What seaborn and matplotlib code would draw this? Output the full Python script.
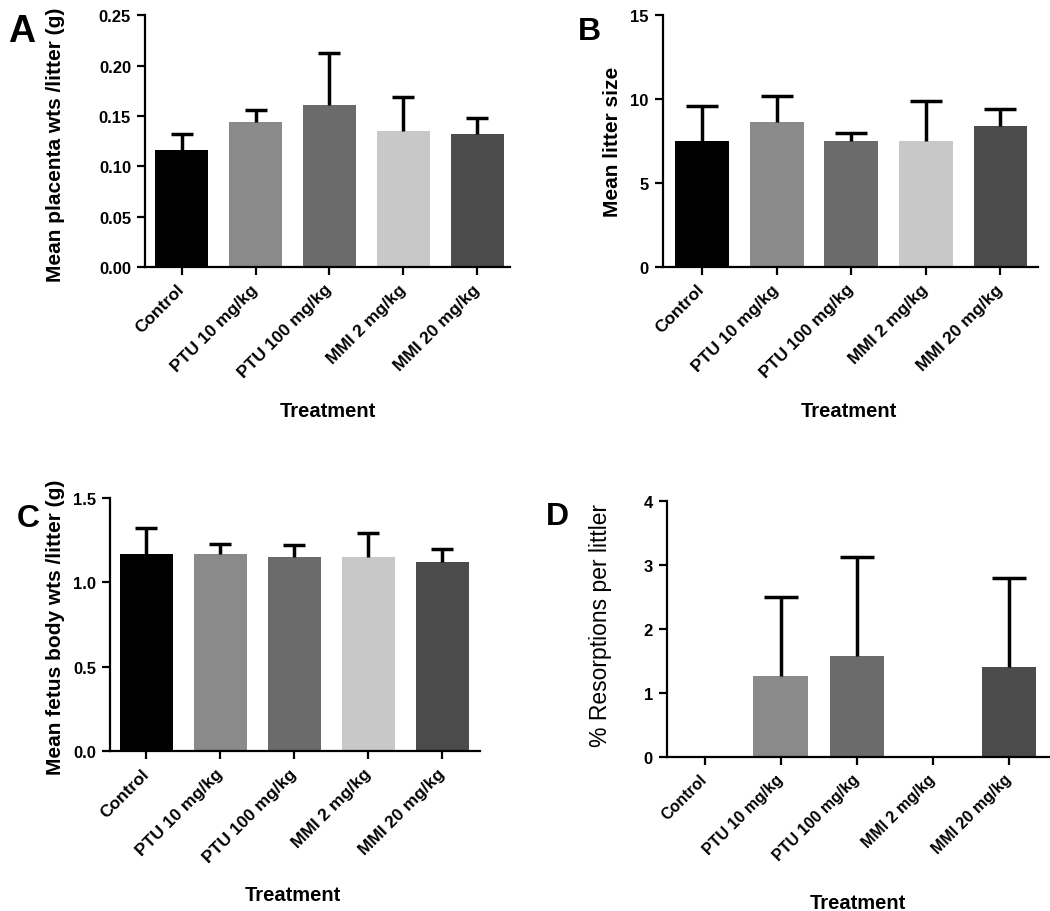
import numpy as np
import matplotlib
matplotlib.use("Agg")
import matplotlib.pyplot as plt
import seaborn as sns

treatments = ["Control", "PTU 10 mg/kg", "PTU 100 mg/kg", "MMI 2 mg/kg", "MMI 20 mg/kg"]
bar_colors = ["#000000", "#8a8a8a", "#6b6b6b", "#c8c8c8", "#4b4b4b"]

placenta_mean = [0.116, 0.144, 0.161, 0.135, 0.132]
placenta_sd = [0.016, 0.012, 0.052, 0.034, 0.016]

litter_mean = [7.5, 8.65, 7.5, 7.5, 8.4]
litter_sd = [2.1, 1.55, 0.5, 2.4, 1.0]

fetus_mean = [1.17, 1.17, 1.15, 1.15, 1.12]
fetus_sd = [0.15, 0.06, 0.07, 0.14, 0.08]

resorp_mean = [0.0, 1.27, 1.57, 0.0, 1.40]
resorp_sd = [0.0, 1.22, 1.55, 0.0, 1.39]

sns.set_theme(style="ticks")
plt.rcParams["font.family"] = ["Liberation Sans", "DejaVu Sans"]
plt.rcParams["axes.linewidth"] = 1.6
for key in ("text.color", "axes.labelcolor", "xtick.color", "ytick.color", "axes.edgecolor"):
    plt.rcParams[key] = "black"


def draw_panel(ax, means, sds, yticks, fmt, ylabel, letter, letter_xy, letter_size,
               ylabel_xy, xlabel_xy, xlim, capsize, xtick_size=12.5, ylabel_kw=None):
    sns.barplot(x=treatments, y=means, hue=treatments, palette=bar_colors,
                legend=False, width=0.72, linewidth=0, saturation=1, ax=ax)
    means = np.asarray(means)
    sds = np.asarray(sds)
    idx = np.arange(len(means))
    keep = sds > 0
    # upper-only error bars, as in the original Prism figure
    _, caps, _ = ax.errorbar(idx[keep], means[keep],
                             yerr=[np.zeros(keep.sum()), sds[keep]],
                             fmt="none", ecolor="black", elinewidth=2.5,
                             capsize=capsize, capthick=2.5, zorder=5)
    caps[0].set_visible(False)

    ax.set_xlim(*xlim)
    ax.set_ylim(yticks[0], yticks[-1])
    ax.set_yticks(yticks)
    ax.set_yticklabels([fmt.format(v) for v in yticks], fontsize=12, fontweight="bold")
    ax.set_xticks(idx)
    ax.set_xticklabels(treatments, rotation=45, ha="right", va="center",
                       rotation_mode="anchor", fontsize=xtick_size, fontweight="bold")
    ax.tick_params(axis="both", length=6, width=1.6, color="black", pad=4)
    ax.tick_params(axis="x", pad=8)
    sns.despine(ax=ax)

    kw = ylabel_kw or dict(fontsize=15, fontweight="bold")
    ax.set_ylabel(ylabel, **kw)
    ax.yaxis.set_label_coords(*ylabel_xy)
    ax.set_xlabel("Treatment", fontsize=14.5, fontweight="bold")
    ax.xaxis.set_label_coords(*xlabel_xy)
    ax.text(letter_xy[0], letter_xy[1], letter, transform=ax.figure.transFigure,
            fontsize=letter_size, fontweight="bold", ha="center", va="center")


fig = plt.figure(figsize=(10.5, 9.12), dpi=100)
ax_a = fig.add_axes([0.138, 0.706, 0.348, 0.276])
ax_b = fig.add_axes([0.631, 0.706, 0.358, 0.276])
ax_c = fig.add_axes([0.105, 0.175, 0.352, 0.278])
ax_d = fig.add_axes([0.635, 0.169, 0.3695, 0.281])

draw_panel(ax_a, placenta_mean, placenta_sd, [0, 0.05, 0.10, 0.15, 0.20, 0.25], "{:.2f}",
           "Mean placenta wts /litter (g)", "A", (22 / 1050, 1 - 32 / 912), 27,
           (-0.219, 0.49), (0.501, -0.532), (-0.5, 4.45), 8)
draw_panel(ax_b, litter_mean, litter_sd, [0, 5, 10, 15], "{:.0f}",
           "Mean litter size", "B", (589 / 1050, 1 - 32 / 912), 23,
           (-0.109, 0.5), (0.496, -0.532), (-0.53, 4.51), 11.5)
draw_panel(ax_c, fetus_mean, fetus_sd, [0, 0.5, 1.0, 1.5], "{:.1f}",
           "Mean fetus body wts /litter (g)", "C", (28 / 1050, 1 - 519 / 912), 23,
           (-0.122, 0.494), (0.493, -0.526), (-0.49, 4.51), 8)
draw_panel(ax_d, resorp_mean, resorp_sd, [0, 1, 2, 3, 4], "{:.0f}",
           "% Resorptions per littler", "D", (557 / 1050, 1 - 517 / 912), 23,
           (-0.14, 0.516), (0.493, -0.531), (-0.5, 4.6), 12, xtick_size=11.5,
           ylabel_kw=dict(fontsize=16.5, fontweight="normal"))

fig.savefig("out.png", dpi=100, facecolor="white")
